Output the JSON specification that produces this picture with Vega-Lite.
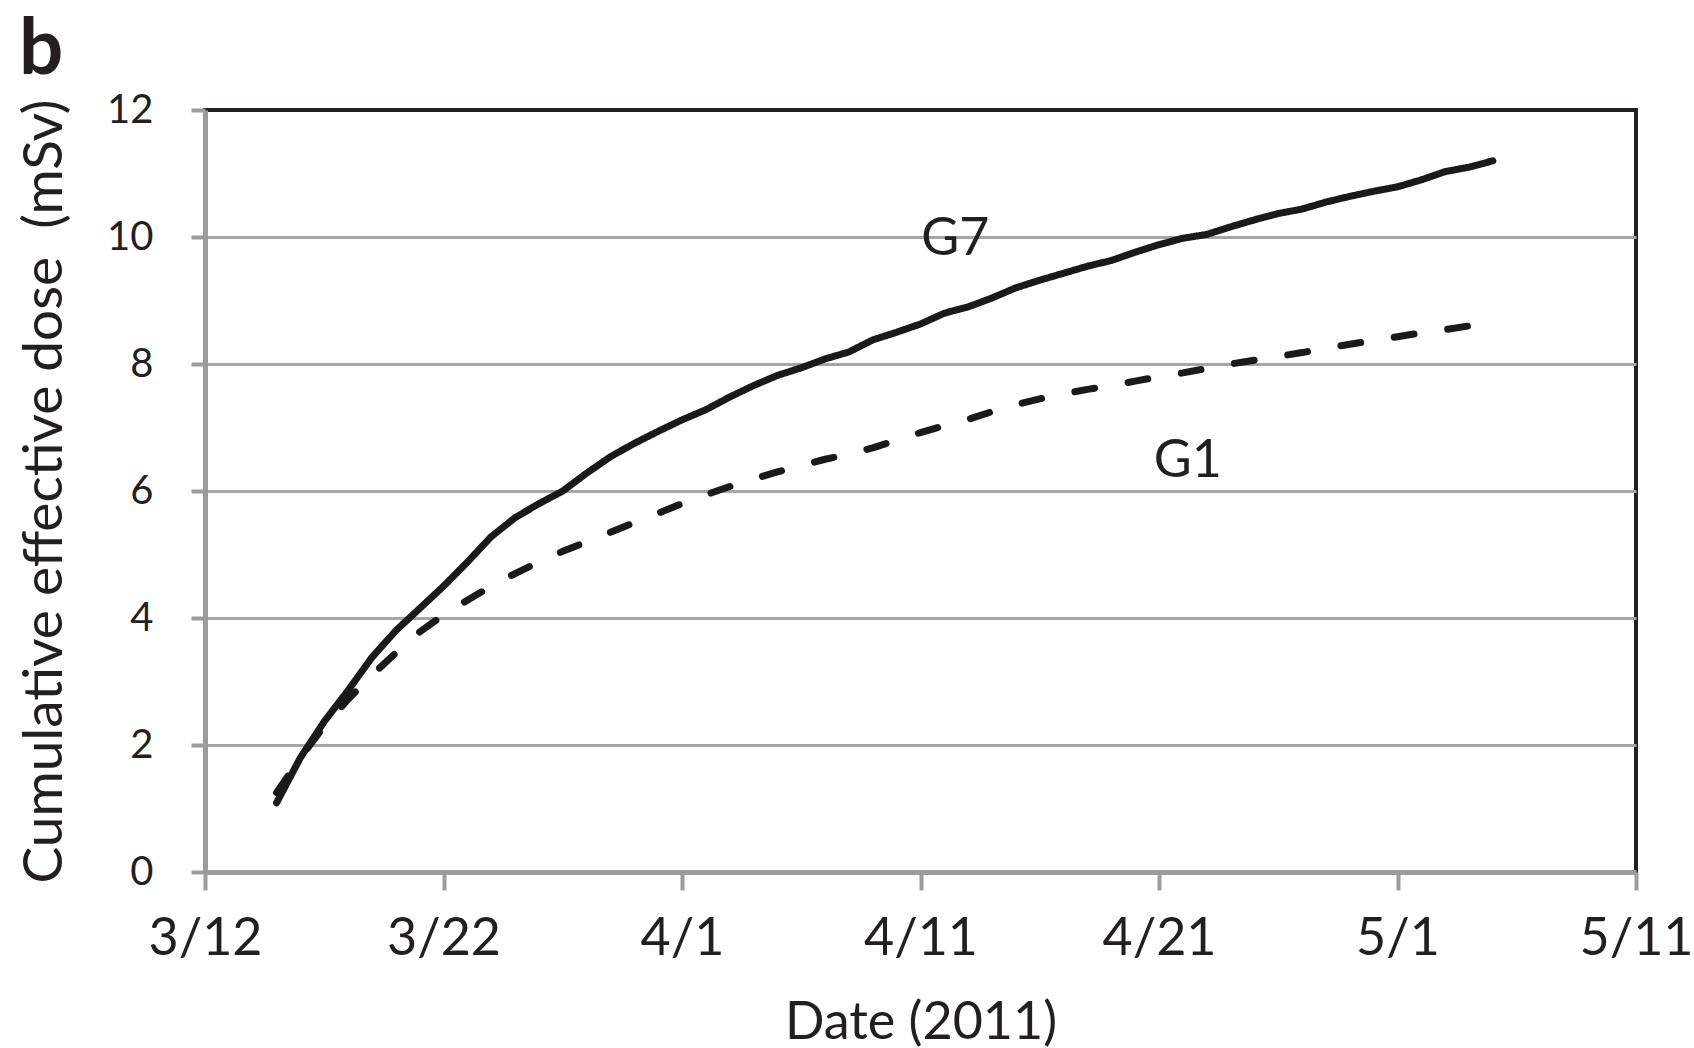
{
  "$schema": "https://vega.github.io/schema/vega-lite/v6.json",
  "width": 1431,
  "height": 762,
  "autosize": {"type": "none"},
  "padding": {"left": 205, "top": 110, "right": 58, "bottom": 176},
  "background": "white",
  "config": {
    "font": "Lato",
    "view": {"stroke": "#231f20", "strokeWidth": 4}
  },
  "title": {
    "text": "b",
    "anchor": "start",
    "frame": "group",
    "orient": "top",
    "fontSize": 78,
    "fontWeight": "bold",
    "color": "#231f20",
    "font": "Lato",
    "baseline": "alphabetic",
    "dx": -186,
    "offset": -62
  },
  "layer": [
    {
      "data": {
        "values": [
          {"date": "2011-03-15", "series": "G7", "dose": 1.09},
          {"date": "2011-03-16", "series": "G7", "dose": 1.8},
          {"date": "2011-03-17", "series": "G7", "dose": 2.37},
          {"date": "2011-03-18", "series": "G7", "dose": 2.86},
          {"date": "2011-03-19", "series": "G7", "dose": 3.38},
          {"date": "2011-03-20", "series": "G7", "dose": 3.8},
          {"date": "2011-03-21", "series": "G7", "dose": 4.15},
          {"date": "2011-03-22", "series": "G7", "dose": 4.5},
          {"date": "2011-03-23", "series": "G7", "dose": 4.88},
          {"date": "2011-03-24", "series": "G7", "dose": 5.28},
          {"date": "2011-03-25", "series": "G7", "dose": 5.58},
          {"date": "2011-03-26", "series": "G7", "dose": 5.8},
          {"date": "2011-03-27", "series": "G7", "dose": 6.0},
          {"date": "2011-03-28", "series": "G7", "dose": 6.28},
          {"date": "2011-03-29", "series": "G7", "dose": 6.54},
          {"date": "2011-03-30", "series": "G7", "dose": 6.75},
          {"date": "2011-03-31", "series": "G7", "dose": 6.94},
          {"date": "2011-04-01", "series": "G7", "dose": 7.12},
          {"date": "2011-04-02", "series": "G7", "dose": 7.28},
          {"date": "2011-04-03", "series": "G7", "dose": 7.48},
          {"date": "2011-04-04", "series": "G7", "dose": 7.66},
          {"date": "2011-04-05", "series": "G7", "dose": 7.82},
          {"date": "2011-04-06", "series": "G7", "dose": 7.94},
          {"date": "2011-04-07", "series": "G7", "dose": 8.08},
          {"date": "2011-04-08", "series": "G7", "dose": 8.19},
          {"date": "2011-04-09", "series": "G7", "dose": 8.38},
          {"date": "2011-04-10", "series": "G7", "dose": 8.5},
          {"date": "2011-04-11", "series": "G7", "dose": 8.63},
          {"date": "2011-04-12", "series": "G7", "dose": 8.8},
          {"date": "2011-04-13", "series": "G7", "dose": 8.9},
          {"date": "2011-04-14", "series": "G7", "dose": 9.04},
          {"date": "2011-04-15", "series": "G7", "dose": 9.2},
          {"date": "2011-04-16", "series": "G7", "dose": 9.32},
          {"date": "2011-04-17", "series": "G7", "dose": 9.43},
          {"date": "2011-04-18", "series": "G7", "dose": 9.54},
          {"date": "2011-04-19", "series": "G7", "dose": 9.63},
          {"date": "2011-04-20", "series": "G7", "dose": 9.76},
          {"date": "2011-04-21", "series": "G7", "dose": 9.88},
          {"date": "2011-04-22", "series": "G7", "dose": 9.98},
          {"date": "2011-04-23", "series": "G7", "dose": 10.04},
          {"date": "2011-04-24", "series": "G7", "dose": 10.16},
          {"date": "2011-04-25", "series": "G7", "dose": 10.27},
          {"date": "2011-04-26", "series": "G7", "dose": 10.37},
          {"date": "2011-04-27", "series": "G7", "dose": 10.44},
          {"date": "2011-04-28", "series": "G7", "dose": 10.55},
          {"date": "2011-04-29", "series": "G7", "dose": 10.64},
          {"date": "2011-04-30", "series": "G7", "dose": 10.72},
          {"date": "2011-05-01", "series": "G7", "dose": 10.79},
          {"date": "2011-05-02", "series": "G7", "dose": 10.9},
          {"date": "2011-05-03", "series": "G7", "dose": 11.03},
          {"date": "2011-05-04", "series": "G7", "dose": 11.1},
          {"date": "2011-05-05", "series": "G7", "dose": 11.2},
          {"date": "2011-03-15", "series": "G1", "dose": 1.25},
          {"date": "2011-03-16", "series": "G1", "dose": 1.8},
          {"date": "2011-03-17", "series": "G1", "dose": 2.3},
          {"date": "2011-03-18", "series": "G1", "dose": 2.72},
          {"date": "2011-03-19", "series": "G1", "dose": 3.1},
          {"date": "2011-03-20", "series": "G1", "dose": 3.45},
          {"date": "2011-03-21", "series": "G1", "dose": 3.78},
          {"date": "2011-03-22", "series": "G1", "dose": 4.05},
          {"date": "2011-03-23", "series": "G1", "dose": 4.28},
          {"date": "2011-03-24", "series": "G1", "dose": 4.5},
          {"date": "2011-03-25", "series": "G1", "dose": 4.7},
          {"date": "2011-03-26", "series": "G1", "dose": 4.88},
          {"date": "2011-03-27", "series": "G1", "dose": 5.05},
          {"date": "2011-03-28", "series": "G1", "dose": 5.2},
          {"date": "2011-03-29", "series": "G1", "dose": 5.35},
          {"date": "2011-03-30", "series": "G1", "dose": 5.5},
          {"date": "2011-03-31", "series": "G1", "dose": 5.65},
          {"date": "2011-04-01", "series": "G1", "dose": 5.8},
          {"date": "2011-04-02", "series": "G1", "dose": 5.94},
          {"date": "2011-04-03", "series": "G1", "dose": 6.07},
          {"date": "2011-04-04", "series": "G1", "dose": 6.19},
          {"date": "2011-04-05", "series": "G1", "dose": 6.3},
          {"date": "2011-04-06", "series": "G1", "dose": 6.4},
          {"date": "2011-04-07", "series": "G1", "dose": 6.5},
          {"date": "2011-04-08", "series": "G1", "dose": 6.58},
          {"date": "2011-04-09", "series": "G1", "dose": 6.68},
          {"date": "2011-04-10", "series": "G1", "dose": 6.8},
          {"date": "2011-04-11", "series": "G1", "dose": 6.92},
          {"date": "2011-04-12", "series": "G1", "dose": 7.03},
          {"date": "2011-04-13", "series": "G1", "dose": 7.13},
          {"date": "2011-04-14", "series": "G1", "dose": 7.25},
          {"date": "2011-04-15", "series": "G1", "dose": 7.36},
          {"date": "2011-04-16", "series": "G1", "dose": 7.45},
          {"date": "2011-04-17", "series": "G1", "dose": 7.53},
          {"date": "2011-04-18", "series": "G1", "dose": 7.6},
          {"date": "2011-04-19", "series": "G1", "dose": 7.66},
          {"date": "2011-04-20", "series": "G1", "dose": 7.73},
          {"date": "2011-04-21", "series": "G1", "dose": 7.8},
          {"date": "2011-04-22", "series": "G1", "dose": 7.86},
          {"date": "2011-04-23", "series": "G1", "dose": 7.93},
          {"date": "2011-04-24", "series": "G1", "dose": 8.0},
          {"date": "2011-04-25", "series": "G1", "dose": 8.06},
          {"date": "2011-04-26", "series": "G1", "dose": 8.12},
          {"date": "2011-04-27", "series": "G1", "dose": 8.18},
          {"date": "2011-04-28", "series": "G1", "dose": 8.25},
          {"date": "2011-04-29", "series": "G1", "dose": 8.31},
          {"date": "2011-04-30", "series": "G1", "dose": 8.37},
          {"date": "2011-05-01", "series": "G1", "dose": 8.43},
          {"date": "2011-05-02", "series": "G1", "dose": 8.49},
          {"date": "2011-05-03", "series": "G1", "dose": 8.54},
          {"date": "2011-05-04", "series": "G1", "dose": 8.6},
          {"date": "2011-05-05", "series": "G1", "dose": 8.65}
        ]
      },
      "mark": {
        "type": "line",
        "color": "#1a1a1a",
        "strokeWidth": 7,
        "strokeCap": "round",
        "strokeJoin": "round"
      },
      "encoding": {
        "x": {
          "field": "date",
          "type": "temporal",
          "scale": {
            "type": "utc",
            "domain": [
              {"year": 2011, "month": 3, "date": 12, "utc": true},
              {"year": 2011, "month": 5, "date": 11, "utc": true}
            ]
          },
          "axis": {
            "title": "Date (2011)",
            "values": [
              {"year": 2011, "month": 3, "date": 12, "utc": true},
              {"year": 2011, "month": 3, "date": 22, "utc": true},
              {"year": 2011, "month": 4, "date": 1, "utc": true},
              {"year": 2011, "month": 4, "date": 11, "utc": true},
              {"year": 2011, "month": 4, "date": 21, "utc": true},
              {"year": 2011, "month": 5, "date": 1, "utc": true},
              {"year": 2011, "month": 5, "date": 11, "utc": true}
            ],
            "format": "%-m/%-d",
            "labelFont": "Lato",
            "labelFontSize": 52,
            "labelColor": "#231f20",
            "labelPadding": 23,
            "labelFlush": false,
            "labelOverlap": false,
            "tickSize": 18,
            "tickWidth": 4,
            "tickColor": "#9c9c9c",
            "domainColor": "#9c9c9c",
            "domainWidth": 5,
            "grid": false,
            "titleFont": "Lato",
            "titleFontSize": 52,
            "titleFontWeight": "normal",
            "titleColor": "#231f20",
            "titleBaseline": "alphabetic",
            "titleY": 166
          }
        },
        "y": {
          "field": "dose",
          "type": "quantitative",
          "scale": {"domain": [0, 12], "nice": false, "zero": true},
          "axis": {
            "title": "Cumulative effective dose \u00a0(mSv)",
            "values": [0, 2, 4, 6, 8, 10, 12],
            "format": "d",
            "labelFont": "Lato",
            "labelFontSize": 40,
            "labelColor": "#231f20",
            "labelPadding": 38,
            "tickSize": 14,
            "tickWidth": 4,
            "tickColor": "#9c9c9c",
            "domainColor": "#9c9c9c",
            "domainWidth": 5,
            "grid": true,
            "gridColor": {
              "condition": {"test": "datum.value === 0 || datum.value === 12", "value": "transparent"},
              "value": "#a6a6a6"
            },
            "gridWidth": 3,
            "titleFont": "Lato",
            "titleFontSize": 55,
            "titleFontWeight": "normal",
            "titleColor": "#231f20",
            "titleBaseline": "alphabetic",
            "titleX": -144
          }
        },
        "strokeDash": {
          "field": "series",
          "type": "nominal",
          "scale": {"domain": ["G1", "G7"], "range": [[20, 34], [1, 0]]},
          "legend": null
        }
      }
    },
    {
      "data": {
        "values": [
          {"date": "2011-04-12T11:00:00Z", "dose": 9.97, "label": "G7"},
          {"date": "2011-04-22T05:00:00Z", "dose": 6.47, "label": "G1"}
        ]
      },
      "mark": {
        "type": "text",
        "font": "Lato",
        "fontSize": 52,
        "color": "#231f20",
        "align": "center",
        "baseline": "middle"
      },
      "encoding": {
        "x": {"field": "date", "type": "temporal"},
        "y": {"field": "dose", "type": "quantitative"},
        "text": {"field": "label", "type": "nominal"}
      }
    }
  ]
}
